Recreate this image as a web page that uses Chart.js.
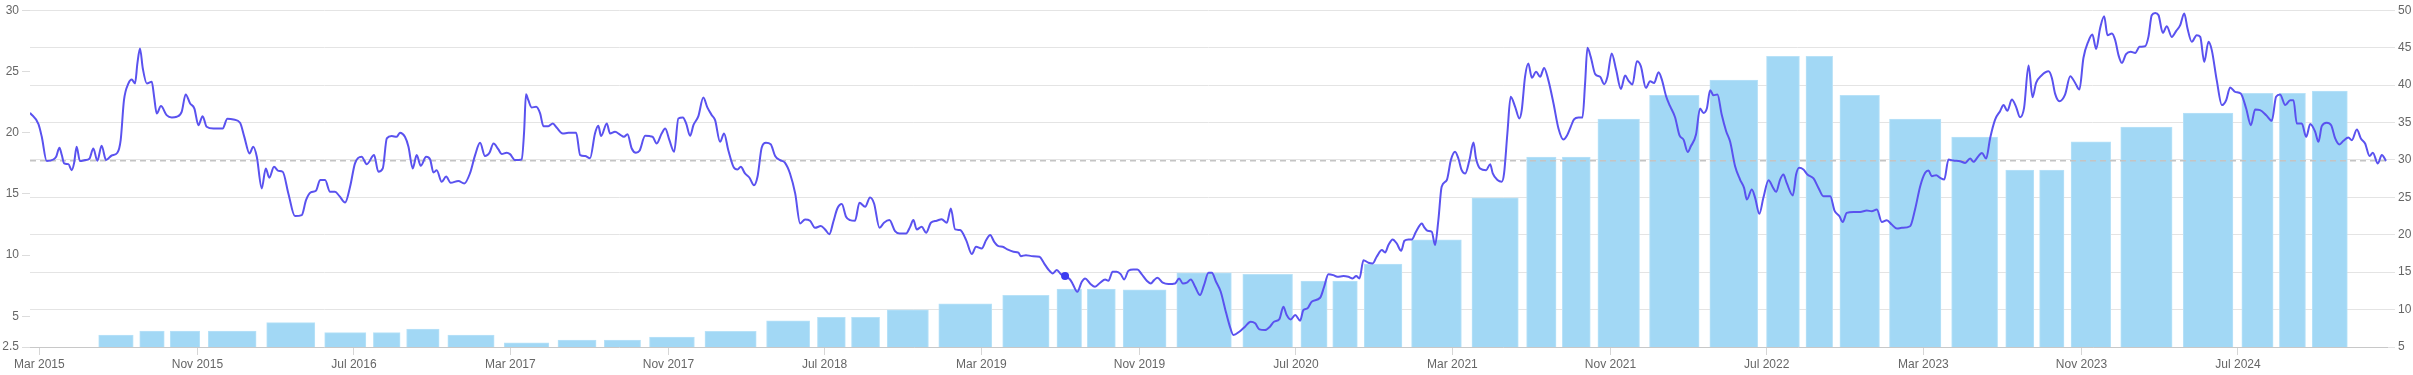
<!DOCTYPE html>
<html>
<head>
<meta charset="utf-8">
<title>Ratio chart</title>
<script src="https://cdn.jsdelivr.net/npm/chart.js@4.4.1/dist/chart.umd.min.js"></script>
<style>
  body { margin: 0; background: #ffffff; }
  #wrap { width: 2413px; height: 375px; }
</style>
</head>
<body>
<div id="wrap"><canvas id="ratioChart"></canvas></div>
<script>
// axis labels
const tickLabels = ['Mar 2015', 'Nov 2015', 'Jul 2016', 'Mar 2017', 'Nov 2017', 'Jul 2018', 'Mar 2019',
    'Nov 2019', 'Jul 2020', 'Mar 2021', 'Nov 2021', 'Jul 2022', 'Mar 2023', 'Nov 2023', 'Jul 2024'];
const leftTicks = [2.5, 5, 10, 15, 20, 25, 30];

// line series (left axis), x in decimal years
const lineYears = [
    2015.122, 2015.158, 2015.172, 2015.193, 2015.221, 2015.233, 2015.247, 2015.257, 2015.267, 2015.285,
    2015.299, 2015.309, 2015.320, 2015.334, 2015.356, 2015.374, 2015.391, 2015.408, 2015.426, 2015.445,
    2015.469, 2015.493, 2015.507, 2015.521, 2015.540, 2015.554, 2015.568, 2015.578, 2015.589, 2015.601,
    2015.618, 2015.639, 2015.649, 2015.660, 2015.678, 2015.702, 2015.724, 2015.745, 2015.766, 2015.783,
    2015.802, 2015.820, 2015.837, 2015.855, 2015.872, 2015.901, 2015.940, 2015.960, 2015.986, 2016.014,
    2016.032, 2016.054, 2016.070, 2016.085, 2016.106, 2016.123, 2016.138, 2016.158, 2016.177, 2016.195,
    2016.219, 2016.247, 2016.276, 2016.294, 2016.314, 2016.336, 2016.354, 2016.375, 2016.396, 2016.417,
    2016.436, 2016.460, 2016.481, 2016.502, 2016.530, 2016.552, 2016.583, 2016.601, 2016.620, 2016.637,
    2016.658, 2016.679, 2016.693,
    2016.714, 2016.729, 2016.747, 2016.764, 2016.781, 2016.804, 2016.821, 2016.835, 2016.849, 2016.870,
    2016.889, 2016.908, 2016.941, 2016.966, 2016.990, 2017.012, 2017.033, 2017.054, 2017.073, 2017.090,
    2017.111, 2017.125, 2017.146, 2017.160, 2017.182, 2017.210, 2017.220, 2017.228, 2017.238, 2017.252,
    2017.271, 2017.288, 2017.302, 2017.323, 2017.342, 2017.358, 2017.384, 2017.408, 2017.441, 2017.458,
    2017.479, 2017.500, 2017.521, 2017.535, 2017.547, 2017.571, 2017.585, 2017.606, 2017.627, 2017.644,
    2017.659, 2017.677, 2017.695, 2017.710, 2017.734, 2017.752, 2017.766, 2017.783, 2017.804, 2017.819,
    2017.837, 2017.857, 2017.875, 2017.894, 2017.908, 2017.925, 2017.939, 2017.960, 2017.981, 2017.998,
    2018.017, 2018.031, 2018.052, 2018.069, 2018.087, 2018.109, 2018.126, 2018.140, 2018.158, 2018.177,
    2018.196, 2018.211, 2018.229, 2018.247, 2018.267, 2018.286, 2018.307, 2018.328, 2018.349, 2018.371,
    2018.392,
    2018.413, 2018.434, 2018.455, 2018.480, 2018.498, 2018.516, 2018.533, 2018.550, 2018.569, 2018.587,
    2018.604, 2018.625, 2018.644, 2018.668, 2018.689, 2018.706, 2018.729, 2018.748, 2018.771, 2018.795,
    2018.814, 2018.842, 2018.859, 2018.873, 2018.887, 2018.908, 2018.927, 2018.947, 2018.972, 2018.993,
    2019.015, 2019.032, 2019.050, 2019.071, 2019.097, 2019.121, 2019.139, 2019.163, 2019.182, 2019.199,
    2019.216, 2019.234, 2019.252, 2019.272, 2019.298, 2019.319, 2019.329, 2019.351, 2019.375, 2019.408,
    2019.428, 2019.446, 2019.465, 2019.482, 2019.499, 2019.517, 2019.538, 2019.550, 2019.569, 2019.588,
    2019.602, 2019.623, 2019.644, 2019.666, 2019.687, 2019.701, 2019.719, 2019.736, 2019.753, 2019.768,
    2019.786, 2019.807, 2019.824, 2019.842, 2019.864, 2019.881, 2019.895, 2019.909, 2019.932, 2019.956,
    2019.984, 2020.001, 2020.017, 2020.034, 2020.051, 2020.069, 2020.090,
    2020.107, 2020.126, 2020.140, 2020.158, 2020.178, 2020.196, 2020.215, 2020.232, 2020.257, 2020.281,
    2020.305, 2020.324, 2020.342, 2020.366, 2020.387, 2020.404, 2020.427, 2020.444, 2020.458, 2020.475,
    2020.494, 2020.515, 2020.529, 2020.546, 2020.564, 2020.600, 2020.617, 2020.635, 2020.656, 2020.673,
    2020.699, 2020.720, 2020.738, 2020.753, 2020.767, 2020.784, 2020.805, 2020.823, 2020.840, 2020.862,
    2020.876, 2020.890, 2020.908, 2020.925, 2020.944, 2020.958, 2020.975, 2020.989, 2021.007, 2021.032,
    2021.041, 2021.056, 2021.074, 2021.088, 2021.102, 2021.116, 2021.138, 2021.155, 2021.173, 2021.187,
    2021.201, 2021.216, 2021.234, 2021.251, 2021.262, 2021.279, 2021.305, 2021.322, 2021.333, 2021.353,
    2021.371, 2021.381, 2021.395, 2021.409, 2021.428, 2021.446, 2021.456, 2021.470, 2021.484, 2021.499,
    2021.517, 2021.534, 2021.551, 2021.569, 2021.591, 2021.612, 2021.633, 2021.647, 2021.664, 2021.678,
    2021.697, 2021.714, 2021.725, 2021.735, 2021.749, 2021.768, 2021.789,
    2021.806, 2021.820, 2021.838, 2021.857, 2021.877, 2021.895, 2021.909, 2021.926, 2021.945, 2021.962,
    2021.983, 2022.001, 2022.018, 2022.037, 2022.051, 2022.069, 2022.086, 2022.107, 2022.126, 2022.143,
    2022.161, 2022.174, 2022.196, 2022.213, 2022.228, 2022.242, 2022.256, 2022.270, 2022.287, 2022.305,
    2022.324, 2022.341, 2022.362, 2022.383, 2022.400, 2022.412, 2022.433, 2022.447, 2022.465, 2022.482,
    2022.504, 2022.522, 2022.536, 2022.553, 2022.567, 2022.581, 2022.607, 2022.621, 2022.634, 2022.652,
    2022.669, 2022.695, 2022.716, 2022.737, 2022.766, 2022.784, 2022.805, 2022.819, 2022.836, 2022.865,
    2022.893, 2022.921, 2022.942, 2022.964, 2022.985, 2023.006, 2023.027, 2023.049, 2023.070, 2023.105,
    2023.126, 2023.148, 2023.169, 2023.183, 2023.197, 2023.216, 2023.233, 2023.250, 2023.268, 2023.289,
    2023.317, 2023.339, 2023.360, 2023.374, 2023.395, 2023.410, 2023.428, 2023.445, 2023.466, 2023.487,
    2023.502, 2023.518, 2023.537, 2023.555, 2023.572, 2023.589, 2023.608, 2023.625, 2023.640, 2023.664,
    2023.693, 2023.707, 2023.721, 2023.739, 2023.763, 2023.785, 2023.806, 2023.824, 2023.841, 2023.862,
    2023.879, 2023.895, 2023.912, 2023.929, 2023.943, 2023.962, 2023.976, 2023.990, 2024.004, 2024.022,
    2024.042, 2024.061, 2024.079, 2024.103, 2024.117, 2024.131, 2024.146, 2024.160, 2024.178, 2024.195,
    2024.216, 2024.235, 2024.252, 2024.269, 2024.283, 2024.301, 2024.322, 2024.337, 2024.354, 2024.372,
    2024.386, 2024.407, 2024.429, 2024.447, 2024.464, 2024.485, 2024.509, 2024.532, 2024.552, 2024.570,
    2024.591, 2024.617, 2024.641, 2024.659, 2024.676, 2024.698, 2024.719, 2024.733, 2024.747, 2024.768,
    2024.787, 2024.804, 2024.825, 2024.839, 2024.853, 2024.874, 2024.893, 2024.910, 2024.928, 2024.945,
    2024.966, 2024.981, 2025.002, 2025.019, 2025.037, 2025.056, 2025.070, 2025.091, 2025.108, 2025.126
];
const lineValues = [
    21.62, 20.70, 19.66, 17.68, 17.81, 18.03, 18.77, 18.17, 17.49, 17.43,
    16.94, 17.49, 18.85, 17.68, 17.76, 17.87, 18.71, 17.70, 18.93, 17.76,
    18.14, 18.36, 19.39, 22.65, 24.02, 24.34, 24.02, 25.65, 26.87, 25.24,
    24.02, 24.15, 22.93, 21.57, 22.17, 21.43, 21.24, 21.30, 21.70, 23.12,
    22.38, 21.97, 20.61, 21.35, 20.48, 20.34, 20.34, 21.13, 21.08, 20.81,
    19.66, 18.30, 18.85, 18.03, 15.45, 17.08, 16.32, 17.21, 16.88, 16.81,
    15.04, 13.19, 13.27, 14.49, 15.13, 15.26, 16.13, 16.13, 15.17, 15.17,
    14.82, 14.30, 15.58, 17.49, 18.03, 17.43, 18.17, 16.81, 17.08, 19.53,
    19.72, 19.66, 19.99,
    19.66, 18.85, 17.08, 18.17, 17.30, 18.03, 17.81, 16.75, 16.94, 15.99,
    16.42, 15.91, 16.06, 15.85, 16.67, 18.17, 19.17, 18.09, 18.36, 19.12,
    18.63, 18.25, 18.36, 18.25, 17.76, 17.81, 20.07, 23.14, 22.65, 22.06,
    22.11, 21.57, 20.53, 20.53, 20.75, 20.42, 19.93, 19.99, 19.99, 18.17,
    18.09, 17.92, 19.93, 20.56, 19.72, 20.75, 19.93, 20.07, 19.85, 19.66,
    19.88, 18.71, 18.36, 18.52, 19.74, 19.72, 19.66, 19.12, 19.93, 20.34,
    19.39, 18.44, 21.16, 21.24, 20.75, 19.74, 20.61, 21.35, 22.87, 22.06,
    21.43, 21.02, 19.25, 19.93, 18.57, 17.21, 16.99, 17.21, 16.67, 16.32,
    15.71, 16.40, 18.79, 19.17, 19.06, 18.09, 17.76, 17.54, 16.67, 15.04,
    12.59,
    12.91, 12.81, 12.23, 12.37, 12.10, 11.71, 12.73, 13.81, 14.17, 13.13,
    12.86, 12.81, 14.28, 13.95, 14.71, 14.22, 12.23, 12.64, 12.86, 11.96,
    11.77, 11.77, 12.31, 12.86, 12.10, 12.31, 11.83, 12.64, 12.81, 12.94,
    12.64, 13.81, 12.10, 12.05, 11.23, 10.09, 10.69, 10.55, 11.23, 11.64,
    11.09, 10.74, 10.69, 10.47, 10.28, 10.20, 9.92, 10.00, 9.92, 9.87,
    9.33, 8.83, 8.51, 8.78, 8.45, 8.29, 8.01, 7.63, 7.01, 7.83,
    8.10, 7.69, 7.42, 7.75, 8.02, 7.91, 8.65, 8.65, 8.45, 8.02,
    8.73, 8.83, 8.83, 8.45, 7.91, 7.69, 7.96, 8.15, 7.75, 7.64,
    7.69, 8.10, 7.69, 7.75, 8.02, 7.42, 6.74,
    7.56, 8.56, 8.56, 7.83, 7.01, 5.65, 4.29, 3.48, 3.75, 4.16,
    4.56, 4.43, 3.94, 3.88, 4.16, 4.56, 4.78, 5.79, 5.11, 4.75,
    5.11, 4.65, 5.52, 5.65, 6.20, 6.52, 7.42, 8.45, 8.37, 8.23,
    8.29, 8.23, 8.10, 8.29, 8.10, 9.59, 9.38, 9.32, 9.87, 10.41,
    10.22, 10.82, 11.28, 10.96, 10.36, 11.17, 11.28, 11.28, 11.91, 12.59,
    12.31, 11.99, 11.91, 10.82, 12.86, 15.58, 16.13, 17.76, 18.44, 17.89,
    16.94, 16.67, 17.76, 19.20, 17.89, 17.08, 16.94, 17.43, 16.67, 16.13,
    15.99, 16.67, 19.93, 22.93, 22.11, 21.16, 21.84, 24.56, 25.65, 24.48,
    24.97, 24.56, 25.29, 24.29, 22.38, 20.34, 19.44, 19.72, 20.48, 21.08,
    21.24, 21.24, 24.02, 26.93, 26.19, 24.78, 24.56,
    23.96, 24.56, 26.47, 25.11, 23.57, 24.66, 24.25, 23.93, 25.83, 25.42,
    23.66, 24.20, 24.06, 24.93, 24.33, 22.97, 22.16, 21.26, 19.77, 19.43,
    18.43, 18.89, 19.85, 21.97, 21.61, 21.97, 23.46, 23.06, 23.11, 21.48,
    20.12, 19.25, 17.26, 16.17, 15.49, 14.54, 15.36, 14.68, 13.37, 14.68,
    16.12, 15.55, 15.17, 16.17, 16.58, 15.90, 14.87, 16.58, 17.13, 16.99,
    16.58, 16.26, 15.49, 14.81, 14.81, 13.64, 13.18, 12.71, 13.45, 13.53,
    13.53, 13.64, 13.59, 13.73, 12.71, 12.85, 12.50, 12.17, 12.23, 12.36,
    13.73, 15.63, 16.72, 16.91, 16.45, 16.53, 16.31, 16.17, 17.81, 17.72,
    17.67, 17.53, 17.89, 17.62, 18.08, 18.35, 17.89, 19.57, 21.07, 21.75,
    22.25, 21.78, 22.71, 22.11, 21.26, 22.02, 25.48, 22.89, 24.06, 24.69,
    25.01, 24.47, 23.17, 22.57, 23.11, 24.61, 24.06, 23.52, 26.10, 27.46,
    28.01, 26.84, 28.55, 29.51, 27.96, 28.10, 27.55, 26.33, 25.70, 26.41,
    26.60, 26.51, 27.01, 27.06, 27.82, 29.59, 29.78, 29.59, 28.15, 28.69,
    27.82, 28.31, 28.78, 29.73, 28.50, 27.42, 27.96, 27.82, 25.78, 27.42,
    26.74, 24.29, 22.25, 22.65, 23.69, 23.33, 23.20, 21.97, 20.61, 21.89,
    21.84, 21.43, 20.97, 22.93, 23.12, 22.25, 22.65, 22.65, 20.75, 20.75,
    19.66, 20.70, 20.07, 19.25, 20.53, 20.81, 20.61, 19.53, 19.04, 19.34,
    19.61, 19.39, 20.26, 19.53, 19.12, 18.09, 18.36, 17.49, 18.17, 17.70
];

// bar series (right axis)
const barYears = [
    2015.487, 2015.666, 2015.741, 2015.972, 2016.237, 2016.471, 2016.664, 2016.748, 2017.001, 2017.228,
    2017.464, 2017.623, 2017.840, 2018.088, 2018.371, 2018.534, 2018.660, 2018.825, 2019.087, 2019.374,
    2019.568, 2019.629, 2019.858, 2020.074, 2020.423, 2020.589, 2020.695, 2020.844, 2021.086, 2021.360,
    2021.566, 2021.665, 2021.855, 2022.096, 2022.369, 2022.591, 2022.710, 2022.867, 2023.120, 2023.400,
    2023.596, 2023.691, 2023.849, 2024.102, 2024.381, 2024.617, 2024.705, 2024.887
];
const barValues = [
    6.60, 7.14, 7.14, 7.14, 8.25, 6.91, 6.91, 7.40, 6.60, 5.57,
    5.93, 5.93, 6.34, 7.10, 8.51, 8.97, 8.97, 9.98, 10.78, 11.91,
    12.75, 12.75, 12.65, 14.92, 14.71, 13.81, 13.81, 16.08, 19.33, 24.94,
    30.37, 30.37, 35.45, 38.61, 40.65, 43.82, 43.82, 38.61, 35.45, 33.04,
    28.64, 28.64, 32.41, 34.38, 36.25, 38.88, 38.88, 39.18
];

const averageValue = 17.7;
const highlightYear = 2019.517;
const xStart = 2015.122;
const xEnd = 2025.13;

const monthNames = ['Jan', 'Feb', 'Mar', 'Apr', 'May', 'Jun', 'Jul', 'Aug', 'Sep', 'Oct', 'Nov', 'Dec'];

// "Mar 2015" -> decimal year
function labelToYear(label) {
    const parts = label.split(' ');
    const y = parseInt(parts[1]);
    const m = monthNames.indexOf(parts[0]);
    const start = Date.UTC(y, 0, 1);
    return y + (Date.UTC(y, m, 1) - start) / (Date.UTC(y + 1, 0, 1) - start);
}

const linePoints = lineYears.map((yr, i) => ({ x: yr, y: lineValues[i] }));
const barPoints = barYears.map((yr, i) => ({ x: yr, y: barValues[i] }));

Chart.defaults.font.size = 12;
Chart.defaults.color = '#666666';

const ctx = document.getElementById('ratioChart').getContext('2d');
const ratioChart = new Chart(ctx, {
    type: 'line',
    data: {
        datasets: [{
            type: 'line',
            label: 'Ratio',
            data: linePoints,
            xAxisID: 'x',
            yAxisID: 'y',
            borderColor: '#5a52ef',
            borderWidth: 2,
            cubicInterpolationMode: 'monotone',
            pointRadius: function (c) { return c.raw && c.raw.x === highlightYear ? 4 : 0; },
            pointBackgroundColor: '#3c3cf0',
            pointBorderWidth: 0,
            fill: false,
            order: 1
        }, {
            type: 'line',
            label: 'Average',
            data: [{ x: xStart, y: averageValue }, { x: xEnd, y: averageValue }],
            xAxisID: 'x',
            yAxisID: 'y',
            borderColor: '#c4c4c4',
            borderWidth: 1.5,
            borderDash: [6, 4],
            pointRadius: 0,
            fill: false,
            order: 2
        }, {
            type: 'bar',
            label: 'Bars',
            data: barPoints,
            xAxisID: 'x',
            yAxisID: 'y1',
            backgroundColor: '#a2d8f5',
            borderColor: '#b8e2f8',
            borderWidth: 1,
            barThickness: 'flex',
            categoryPercentage: 1,
            barPercentage: 0.82,
            order: 3
        }]
    },
    options: {
        responsive: true,
        maintainAspectRatio: false,
        animation: false,
        layout: { padding: { top: 10, left: 0, right: 0, bottom: 0 } },
        plugins: {
            legend: { display: false },
            tooltip: { enabled: false }
        },
        scales: {
            x: {
                type: 'linear',
                min: xStart,
                max: xEnd,
                offset: false,
                afterBuildTicks: function (axis) {
                    axis.ticks = tickLabels.map(l => ({ value: labelToYear(l) }));
                },
                afterFit: function (axis) { axis.height = 28; },
                ticks: {
                    autoSkip: false,
                    maxRotation: 0,
                    padding: 2,
                    callback: function (value, index) { return tickLabels[index]; }
                },
                grid: { drawOnChartArea: false, color: '#d6d6d6', tickLength: 8, offset: false },
                border: { display: true, color: '#c8c8c8', width: 1 }
            },
            y: {
                type: 'linear',
                position: 'left',
                min: 2.5,
                max: 30,
                afterBuildTicks: function (axis) {
                    axis.ticks = leftTicks.map(v => ({ value: v }));
                },
                afterFit: function (axis) { axis.width = 30; },
                ticks: { callback: function (value) { return String(value); } },
                grid: { drawOnChartArea: false, color: '#dcdcdc', tickLength: 8 },
                border: { display: false }
            },
            y1: {
                type: 'linear',
                position: 'right',
                min: 5,
                max: 50,
                ticks: { stepSize: 5 },
                afterFit: function (axis) { axis.width = 26; },
                grid: { drawOnChartArea: true, color: '#e4e4e4', tickLength: 8 },
                border: { display: false }
            }
        }
    }
});
</script>
</body>
</html>
